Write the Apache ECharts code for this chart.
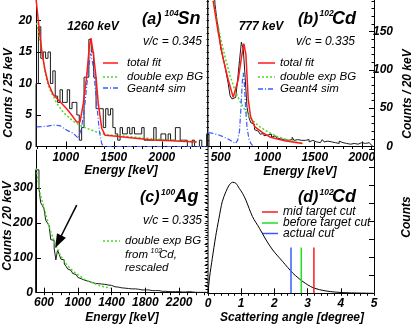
<!DOCTYPE html>
<html><head><meta charset="utf-8">
<script src="https://cdn.jsdelivr.net/npm/echarts@6/dist/echarts.min.js"></script>
<style>html,body{margin:0;padding:0;background:#fff}#c{width:415px;height:326px}</style>
</head><body><div id="c"></div>
<script>
// ---------- data ----------
// (a) 104Sn, 25 keV bins
const histA_start = 690, histA_width = 25;
const histA = [10,19,14,15,14,15,10,12,8,7, 9,7,7,9,6,7,7,5,1,3, 11,11,17,15,11,6,6,6,3,6, 5,6,3,2,1,3,2,2,3,2, 3,2,2,2,3,1,1,1,1,3, 1,1,2,2,1,2,1,1,3,3, 1,1,1,0,0,1,0,0,1,0, 0,2];
const fitA_total = [[690,23.5],[714,20],[749,15.3],[784,12.1],[818,10],[870,8.2],[940,7.1],[1009,6.0],[1061,5.0],[1113,3.9],[1148,3.9],[1182,6.8],[1217,11.1],[1245,15.9],[1262,17.2],[1286,14.8],[1314,11.1],[1338,6.8],[1374,2.9],[1408,1.8],[1500,1.65],[1700,1.35],[1900,1.05],[2100,0.9],[2362,0.7]];
const fitA_bg = [[697,19.6],[732,16.9],[766,13.5],[801,10.6],[836,9.0],[905,6.9],[974,5.4],[1078,4.0],[1182,3.1],[1321,2.3],[1408,1.9],[1703,1.5],[2050,1.05],[2362,0.72]];
const fitA_sim = [[697,3.1],[800,3.2],[870,3.4],[940,3.3],[1009,2.6],[1078,2.1],[1130,1.3],[1145,1.0],[1165,3.0],[1200,6.9],[1234,12.1],[1260,14.8],[1286,12.7],[1321,6.9],[1349,2.5],[1373,0.5],[1390,0],[2480,0]];

// (b) 102Cd, 20 keV bins
const histB_start = 360, histB_width = 20;
const histB = [300,280,260,220,185,165,150,128,118,108, 95,82,66,62,64,65,87,112,136,127, 90,51,38,31,29,22,20,18,16,17, 14,15,13,16,12,14,12,11,10,12, 9,10,8,10,9,12,8,9,7,8, 6,8,7,9,6,8,7,6,8,5, 7,9,6,7,5,6,8,5,6,4, 7,5,6,4,5,3,5,4,6,3, 4,5,3,4,2,5,3,2];
const fitB_total = [[420,190],[473,149],[527,114],[580,87],[633,64],[651,65],[686,87],[722,117],[746,134],[768,120],[793,61],[818,39],[860,26],[946,18],[1030,12],[1180,7.5],[1370,4]];
const fitB_bg = [[420,190],[500,140],[550,115],[600,92],[650,74],[700,60],[750,49],[800,40],[850,33],[900,27],[1000,19],[1100,13],[1200,9],[1300,6],[1380,4]];
const fitB_sim = [[370,18],[420,17],[480,15],[540,12],[590,9],[630,6],[655,4],[680,8],[700,20],[715,50],[730,85],[740,96],[750,85],[765,50],[780,25],[800,10],[820,4],[840,1],[860,0]];

// (c) 100Ag, 20 keV bins
const histC_start = 500, histC_width = 20;
const histC = [352,352,300,258,250,240,208,200,192,152, 150,128,94,122,110,96,94,82,76,68, 64,60,55,52,50,44,40,37,36,35, 33,32,30,29,27,24,26,24,25,23, 24,21,22,20,21,18,17,18,16,17, 14,15,13,14,12,13,11,10,11,9, 10,9,8,9,8,7,8,7,6,7, 6,5,6,5,4,5,4,5,3,4, 3,4,3,2,3,3,2,3,2,2, 3,1,2,2,1,2,1,2,1,1, 1,0];
const fitC_bg = [[508,356],[548,289],[607,237],[672,180],[731,141],[791,108],[871,79],[951,60],[1093,36],[1272,19],[1388,13]];
const arrowFrom = [987,251], arrowTo = [769,146];

// (d) scattering angle
const angleCurve = [[0,0],[0.05,167],[0.13,350],[0.23,567],[0.33,750],[0.43,917],[0.54,1017],[0.64,1083],[0.74,1110],[0.84,1100],[0.94,1050],[1.04,1000],[1.14,933],[1.34,767],[1.55,650],[1.75,533],[1.95,433],[2.25,317],[2.56,200],[2.86,117],[3.16,57],[3.56,23],[4.07,7],[4.98,0]];
const cutNames = ['mid target cut','before target cut','actual cut'];
const cutAngles = [3.19, 2.81, 2.50];
const cutTop = 457;

// tick labels
const ticksAx = [1000,1500,2000], ticksAy = [0,5,10,15,20];
const ticksBx = [500,1000,1500,2000], ticksBy = [0,50,100,150];
const ticksCx = [600,1000,1400,1800,2200], ticksCy = [0,100,200,300];
const ticksDx = [0,1,2,3,4,5];

// ---------- helpers ----------
const FONT = 'Liberation Sans';
const RED = '#ff1a1a', GREEN = '#44dd22', BLUE = '#3a5cff';
function range(a, b, s) { const r = []; for (let v = a; v <= b + 1e-9; v += s) r.push(+v.toFixed(6)); return r; }
function histPts(start, w, vals) {
  const p = [[start, 0]];
  vals.forEach((v, i) => p.push([start + i * w, v]));
  p.push([start + vals.length * w, vals[vals.length - 1]]);
  p.push([start + vals.length * w, 0]);
  return p;
}
const plain = v => String(v);
const lab = {fontFamily: FONT, fontWeight: 'bold', fontStyle: 'italic', fontSize: 12, color: '#000', formatter: plain};
function mainAxis(grid, min, max, labels, extra) {
  return Object.assign({
    gridIndex: grid, type: 'value', min: min, max: max,
    axisLine: {show: true, onZero: false, lineStyle: {color: '#000', width: 1}},
    axisTick: {show: true, inside: true, length: 5, customValues: labels, lineStyle: {color: '#000'}},
    axisLabel: Object.assign({show: true, customValues: labels, margin: 4}, lab),
    splitLine: {show: false}
  }, extra || {});
}
function minorAxis(grid, min, max, ticks, extra) {
  return Object.assign({
    gridIndex: grid, type: 'value', min: min, max: max,
    axisLine: {show: false},
    axisTick: {show: true, inside: true, length: 2.5, customValues: ticks, lineStyle: {color: '#000'}},
    axisLabel: {show: false}, splitLine: {show: false}
  }, extra || {});
}
function lineOnly(grid, min, max, pos, color) {
  return {gridIndex: grid, type: 'value', min: min, max: max, position: pos,
    axisLine: {show: true, onZero: false, lineStyle: {color: color, width: 1.5}},
    axisTick: {show: false}, axisLabel: {show: false}, splitLine: {show: false}};
}

const grids = [
  {left: 36, top: 0, width: 173, height: 146.5},
  {left: 208, top: 0, width: 166, height: 146.5},
  {left: 36, top: 150, width: 171, height: 142.7},
  {left: 208, top: 147, width: 166, height: 146.3}
];
const A = {xmin: 690, xmax: 2490, ymax: 23.25};
const B = {xmin: 365, xmax: 2130, ymax: 191};
const C = {xmin: 505, xmax: 2530, ymax: 409};
const D = {xmin: 0, xmax: 5, ymax: 1463};

const xAxes = [
  mainAxis(0, A.xmin, A.xmax, ticksAx, {axisLabel: Object.assign({customValues: ticksAx, margin: 5}, lab)}),
  mainAxis(1, B.xmin, B.xmax, ticksBx, {axisLabel: Object.assign({customValues: ticksBx, margin: 5}, lab)}),
  mainAxis(2, C.xmin, C.xmax, ticksCx, {axisLabel: Object.assign({customValues: ticksCx, margin: 4}, lab)}),
  mainAxis(3, D.xmin, D.xmax, ticksDx, {axisLabel: Object.assign({customValues: ticksDx, margin: 4}, lab)}),
  minorAxis(0, A.xmin, A.xmax, range(700, 2400, 100)),
  minorAxis(1, B.xmin, B.xmax, range(400, 2100, 100)),
  minorAxis(2, C.xmin, C.xmax, range(600, 2500, 100)),
  minorAxis(3, D.xmin, D.xmax, range(0, 5, 0.2))
];
const yAxes = [
  mainAxis(0, 0, A.ymax, ticksAy),
  mainAxis(1, 0, B.ymax, ticksBy, {position: 'right', axisLabel: Object.assign({customValues: ticksBy, margin: 19, align: 'right'}, lab)}),
  mainAxis(2, 0, C.ymax, ticksCy, {axisLabel: Object.assign({customValues: ticksCy, margin: 3}, lab)}),
  mainAxis(3, 0, D.ymax, range(0, 1440, 180), {position: 'right', axisLabel: {show: false}}),
  minorAxis(0, 0, A.ymax, range(1, 23, 1)),
  minorAxis(1, 0, B.ymax, range(10, 190, 10), {position: 'right'}),
  minorAxis(2, 0, C.ymax, range(20, 400, 20)),
  minorAxis(3, 0, D.ymax, range(36, 1440, 36), {position: 'right'}),
  lineOnly(1, 0, B.ymax, 'left', '#777'),
  lineOnly(3, 0, D.ymax, 'left', '#555')
];

function S(xi, yi, data, color, width, type, extra) {
  return Object.assign({type: 'line', xAxisIndex: xi, yAxisIndex: yi, data: data, symbol: 'none', silent: true,
    lineStyle: {color: color, width: width, type: type || 'solid'}, animation: false}, extra || {});
}
const DOT = [2, 2], DASHDOT = [5, 2, 1, 2];
const series = [
  S(0, 0, histPts(histA_start, histA_width, histA), '#1a1a1a', 1, 'solid', {step: 'end'}),
  S(0, 0, fitA_bg, GREEN, 1.5, DOT),
  S(0, 0, fitA_sim, BLUE, 1.2, DASHDOT),
  S(0, 0, fitA_total, RED, 1.5),
  S(1, 1, histPts(histB_start, histB_width, histB), '#1a1a1a', 1, 'solid', {step: 'end'}),
  S(1, 1, fitB_bg, GREEN, 1.5, DOT),
  S(1, 1, fitB_sim, BLUE, 1.2, DASHDOT),
  S(1, 1, fitB_total, RED, 1.5),
  S(2, 2, histPts(histC_start, histC_width, histC), '#1a1a1a', 1, 'solid', {step: 'end',
    markLine: {silent: true, symbol: ['none', 'triangle'], symbolSize: [10, 14], animation: false,
      lineStyle: {color: '#000', width: 1.5, type: 'solid'}, label: {show: false},
      data: [[{coord: arrowFrom}, {coord: arrowTo}]]}}),
  S(2, 2, fitC_bg, GREEN, 1.5, DOT),
  S(3, 3, angleCurve, '#000', 1, 'solid', {smooth: 0.3})
];
const cutColors = [RED, '#22dd22', BLUE];
cutAngles.forEach((a, i) => series.push(S(3, 3, [[a, 0], [a, cutTop]], cutColors[i], 1.5)));

// ---------- text ----------
function T(x, y, text, size, opts) {
  opts = opts || {};
  return {type: 'text', x: x, y: y, rotation: opts.rot || 0, silent: true,
    style: {text: text, fill: '#000', fontFamily: FONT, fontSize: size,
      fontWeight: opts.bold ? 'bold' : 'normal', fontStyle: opts.italic === false ? 'normal' : 'italic',
      align: opts.align || 'left', verticalAlign: 'middle'}};
}
function L(x1, x2, y, color, dash) {
  return {type: 'line', silent: true, shape: {x1: x1, y1: y, x2: x2, y2: y},
    style: {stroke: color, lineWidth: 1.5, lineDash: dash || null}};
}
const g = [];
// panel (a)
g.push(T(142, 19.5, '(a)', 16, {bold: true}), T(164.5, 14, '104', 8.5, {bold: true}), T(177.5, 19.5, 'Sn', 18, {bold: true}));
g.push(T(93, 27, '1260 keV', 12, {bold: true, align: 'center'}));
g.push(T(202, 41.5, 'v/c = 0.345', 12, {align: 'right'}));
g.push(L(103, 118, 63, RED), T(127, 63, 'total fit', 11.5));
g.push(L(103, 118, 77, GREEN, DOT), T(127, 77, 'double exp BG', 11.5));
g.push(L(103, 118, 88, BLUE, DASHDOT), T(127, 88.5, 'Geant4 sim', 11.5));
g.push(T(9, 93, 'Counts / 25 keV', 12, {bold: true, rot: Math.PI / 2, align: 'center'}));
g.push(T(121, 171, 'Energy [keV]', 12, {bold: true, align: 'center'}));
// panel (b)
g.push(T(298, 19.5, '(b)', 16, {bold: true}), T(319.5, 14, '102', 8.5, {bold: true}), T(332, 19.5, 'Cd', 18, {bold: true}));
g.push(T(261, 27, '777 keV', 12, {bold: true, align: 'center'}));
g.push(T(355, 42, 'v/c = 0.335', 12, {align: 'right'}));
g.push(L(258, 275, 63, RED), T(280, 63, 'total fit', 11.5));
g.push(L(258, 275, 77, GREEN, DOT), T(280, 77, 'double exp BG', 11.5));
g.push(L(258, 275, 89, BLUE, DASHDOT), T(280, 89, 'Geant4 sim', 11.5));
g.push(T(407.5, 94, 'Counts / 20 keV', 12, {bold: true, rot: Math.PI / 2, align: 'center'}));
g.push(T(300, 172, 'Energy [keV]', 12, {bold: true, align: 'center'}));
// panel (c)
g.push(T(140, 197.5, '(c)', 16, {bold: true}), T(161, 193, '100', 8.5, {bold: true}), T(174.5, 197.5, 'Ag', 18, {bold: true}));
g.push(T(202, 221, 'v/c = 0.335', 12, {align: 'right'}));
g.push(L(103, 120, 241, GREEN, DOT), T(125, 241, 'double exp BG', 11.5));
g.push(T(125, 255, 'from', 11.5), T(150.5, 251.5, '102', 7), T(159, 255, 'Cd,', 11.5));
g.push(T(125, 268, 'rescaled', 11.5));
g.push(T(8, 226, 'Counts / 20 keV', 12, {bold: true, rot: Math.PI / 2, align: 'center'}));
g.push(T(122, 317.5, 'Energy [keV]', 12, {bold: true, align: 'center'}));
// panel (d)
g.push(T(298, 197.5, '(d)', 16, {bold: true}), T(319.5, 193, '102', 8.5, {bold: true}), T(332, 197.5, 'Cd', 18, {bold: true}));
cutNames.forEach((n, i) => {
  const y = [212, 223, 233.5][i];
  g.push(L(262, 278, y, cutColors[i]), T(283, y, n, 12));
});
g.push(T(407, 217, 'Counts', 12, {bold: true, rot: Math.PI / 2, align: 'center'}));
g.push(T(292, 318, 'Scattering angle [degree]', 12, {bold: true, align: 'center'}));

const chart = echarts.init(document.getElementById('c'), null, {renderer: 'canvas'});
chart.setOption({
  animation: false,
  backgroundColor: '#fff',
  grid: grids,
  xAxis: xAxes,
  yAxis: yAxes,
  series: series,
  graphic: g
});
</script></body></html>
